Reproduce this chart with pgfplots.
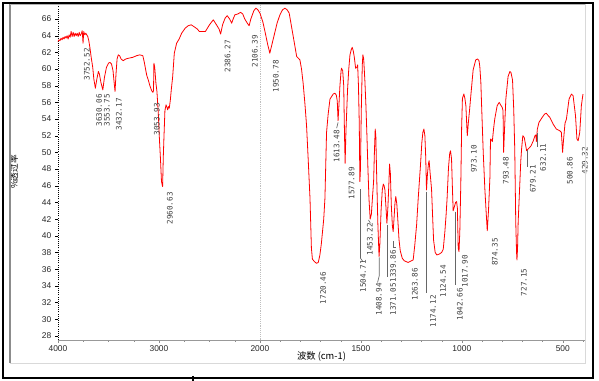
\documentclass[border=0pt]{standalone}
\usepackage{fontspec}
\setmainfont{Liberation Sans}
\newfontfamily\cjk{Noto Sans CJK SC}
\newfontfamily\mono{DejaVu Sans Mono}
\usepackage{pgfplots}
\usepackage{pgfplotstable}
\pgfplotsset{compat=1.18}
\pgfplotstableread{
wn t
4000 63.3
3990 63.5
3980 63.4
3970 63.7
3960 63.5
3950 63.8
3940 63.6
3930 63.9
3920 63.7
3910 64.0
3900 63.6
3890 64.1
3880 63.8
3870 64.5
3860 63.9
3850 64.4
3840 63.9
3830 64.3
3820 64.0
3810 64.3
3800 63.9
3790 64.4
3780 64.0
3770 64.2
3760 64.6
3752 63.1
3745 64.5
3735 64.1
3725 64.3
3715 64.1
3705 63.9
3695 63.4
3683 62.5
3670 61.3
3656 60.2
3645 58.8
3630 57.7
3615 58.8
3600 59.7
3590 59.4
3575 58.4
3556 57.5
3540 59.0
3520 60.2
3500 60.7
3485 60.8
3470 60.6
3455 59.8
3445 58.5
3435 57.3
3425 59.5
3415 61.2
3403 61.7
3390 61.6
3375 61.2
3355 61.0
3330 61.2
3300 61.3
3260 61.4
3221 61.6
3190 61.7
3160 61.6
3145 60.8
3130 59.8
3120 59.2
3106 58.7
3090 58.0
3072 57.4
3060 57.2
3054 57.4
3050 60.7
3042 60.2
3030 58.3
3020 57.3
3007 54.8
2995 51.5
2985 49.2
2975 46.5
2964 45.9
2957 49.5
2950 52.0
2941 55.0
2930 55.7
2920 55.4
2914 55.1
2905 55.5
2898 55.3
2888 56.2
2878 57.5
2864 59.1
2848 61.9
2825 63.1
2800 63.6
2775 64.3
2740 64.9
2710 65.2
2680 65.3
2655 65.1
2620 64.8
2600 64.5
2570 64.5
2540 64.5
2500 65.3
2462 65.9
2430 65.3
2405 64.8
2389 64.2
2370 65.3
2345 66.1
2324 66.4
2300 66.0
2280 65.5
2265 66.0
2248 66.5
2220 66.6
2191 66.8
2170 66.6
2150 66.0
2125 65.5
2107 65.2
2090 66.0
2060 67.0
2040 67.3
2020 67.1
2000 66.7
1985 65.6
1975 64.5
1962 63.0
1951 61.9
1940 63.0
1931 63.9
1915 65.5
1901 66.5
1888 67.1
1876 67.3
1865 67.1
1855 66.7
1845 65.3
1835 63.9
1825 62.5
1818 61.5
1810 61.3
1802 61.1
1794 60.0
1786 58.3
1777 55.8
1769 53.2
1761 49.2
1752 44.5
1745 38.5
1740 37.2
1730 36.9
1720 36.7
1711 36.8
1703 37.7
1696 39.0
1690 40.5
1684 42.0
1678 44.5
1674 48.5
1670 52.4
1662 54.6
1653 56.4
1645 56.7
1637 57.0
1629 57.1
1622 56.9
1617 56.2
1613 53.8
1609 55.5
1604 57.9
1598 59.8
1596 60.1
1590 59.8
1585 58.0
1581 52.0
1578 48.7
1574 52.5
1566 57.5
1560 60.0
1554 61.7
1548 62.3
1543 62.6
1538 62.2
1533 61.5
1526 60.1
1520 60.2
1516 60.5
1512 58.0
1508 53.5
1505 46.5
1502 48.0
1498 55.0
1493 60.5
1490 61.7
1486 61.2
1480 58.5
1475 55.6
1470 52.0
1465 48.0
1460 44.5
1454 42.0
1448 42.6
1442 44.8
1437 46.5
1433 50.0
1429 52.8
1426 52.0
1422 47.5
1416 41.5
1410 37.5
1406 39.0
1400 43.0
1394 45.5
1389 46.2
1385 46.0
1381 45.5
1376 43.5
1371 41.5
1366 43.5
1361 46.5
1358 48.6
1354 47.5
1349 43.5
1344 41.2
1340 40.5
1336 42.0
1331 44.0
1327 44.7
1322 43.8
1316 41.5
1311 39.5
1305 38.2
1295 37.3
1285 37.0
1266 36.8
1250 37.0
1241 37.1
1233 38.9
1224 41.3
1216 44.5
1205 48.4
1198 51.2
1193 52.4
1188 52.8
1183 52.0
1179 49.5
1175 45.5
1170 47.5
1165 48.7
1162 49.0
1157 47.5
1150 45.6
1145 42.5
1140 39.5
1132 38.0
1124 37.7
1112 37.8
1100 38.0
1092 38.4
1084 40.5
1078 42.5
1073 44.5
1066 48.2
1060 49.9
1056 50.2
1051 49.2
1047 46.0
1043 43.0
1038 43.4
1031 44.0
1026 44.1
1022 43.3
1018 38.5
1014 38.1
1010 40.5
1005 46.4
1001 53.0
997 56.5
990 57.0
985 56.5
980 55.6
976 53.5
973 52.0
968 53.5
962 55.0
957 56.4
944 59.9
931 61.1
922 61.2
915 61.0
911 60.3
906 58.5
902 55.6
894 50.0
886 45.6
880 43.0
874 40.6
868 43.0
861 47.0
858 51.6
853 51.5
849 51.3
843 52.8
837 54.0
825 55.6
815 56.0
808 55.7
800 55.4
796 55.0
793 50.0
789 52.5
782 56.4
771 59.1
762 59.7
757 59.6
749 58.7
743 55.2
738 50.4
733 41.7
729 38.0
727 37.1
724 38.5
721 41.7
714 45.6
708 49.0
704 50.4
698 52.0
691 51.8
685 51.0
679 50.2
672 50.4
664 50.6
657 50.8
646 51.4
638 52.0
633 52.1
631 51.3
626 52.8
618 53.6
602 54.2
590 54.6
582 54.7
572 54.4
564 54.2
548 53.4
532 52.8
515 52.6
507 52.4
501 50.0
496 51.6
489 53.5
482 54.0
469 56.4
457 57.0
449 56.8
443 55.6
437 54.4
430 51.6
424 51.4
416 52.4
408 55.6
400 57.0
}\spec
\begin{document}
\begin{tikzpicture}
\begin{axis}[
  at={(43.5pt,30.75pt)}, anchor=south west, scale only axis,
  width=395.25pt, height=252pt,
  xmin=0, xmax=5.22, ymin=27.5, ymax=67.8,
  axis lines=left, axis line style={-},
  x axis line style={black!40, line width=0.7pt},
  y axis line style={black, densely dotted, line width=0.6pt},
  xtick={0,1,2,3,4,5}, xticklabels={4000,3000,2000,1500,1000,500},
  minor xtick={0.25,0.5,0.75,1.25,1.5,1.75,2.2,2.4,2.6,2.8,3.2,3.4,3.6,3.8,4.2,4.4,4.6,4.8,5.2},
  ytick={28,30,...,66},
  tick align=outside, major tick length=2pt, minor tick length=1.2pt,
  xtick style={black!45}, ytick style={black},
  /pgf/number format/assume math mode=true,
  tick label style={font=\fontsize{6.3}{7}\selectfont, text=black!85},
  xticklabel style={yshift=1pt},
  yticklabel style={xshift=0.5pt},
  xlabel={\cjk 波数 (cm-1)},
  xlabel style={at={(axis description cs:0.5,-0.0497)}, anchor=center, font=\fontsize{7}{8}\selectfont},
  ylabel={\cjk \%透过率},
  ylabel style={at={(axis description cs:-0.0835,0.5)}, anchor=center, font=\fontsize{6.5}{7}\selectfont},
  clip=false,
]
\draw[densely dotted, black!25] (axis cs:2,27.5) -- (axis cs:2,67.8);
\addplot[red, line width=0.6pt, line join=round] table[x expr={(\thisrow{wn}>=2000)*(4000-\thisrow{wn})/1000+(\thisrow{wn}<2000)*(2+(2000-\thisrow{wn})/500)}, y=t] {\spec};
% leader lines
\draw[black!60, line width=0.5pt] (axis cs:2.997,45.6) -- (axis cs:2.997,37.3) -- (axis cs:3.02,36.9);
\draw[black!60, line width=0.5pt] (axis cs:3.182,37.4) -- (axis cs:3.182,35.2) -- (axis cs:3.165,34.4);
\draw[black!60, line width=0.5pt] (axis cs:3.260,41.3) -- (axis cs:3.260,35.0);
\draw[black!60, line width=0.5pt] (axis cs:3.320,39.4) -- (axis cs:3.320,38.6) -- (axis cs:3.35,38.6);
\draw[black!60, line width=0.5pt] (axis cs:3.650,45.3) -- (axis cs:3.650,33.1);
\draw[black!60, line width=0.5pt] (axis cs:3.931,42.9) -- (axis cs:3.931,34.1);
\draw[black!60, line width=0.5pt] (axis cs:4.65,50.3) -- (axis cs:4.65,48.2);
\draw[black!60, line width=0.5pt] (axis cs:4.745,52.3) -- (axis cs:4.745,50.7);
\draw[black!60, line width=0.5pt] (axis cs:3.075,41.9) -- (axis cs:3.095,41.5);
\draw[black!60, line width=0.5pt] (axis cs:2.774,53.6) -- (axis cs:2.76,52.9);
% peak labels
\begin{scope}[every node/.style={rotate=90, anchor=east, inner sep=0pt, font=\mono\fontsize{5.7}{6}\selectfont, text=black!75}]
\node at (axis cs:0.287,62.52) {3752.52};
\node at (axis cs:0.406,57.0) {3630.06};
\node at (axis cs:0.485,57.0) {3553.75};
\node at (axis cs:0.604,56.52) {3432.17};
\node at (axis cs:0.980,55.92) {3053.93};
\node at (axis cs:1.109,45.24) {2960.63};
\node at (axis cs:1.680,63.48) {2386.27};
\node at (axis cs:1.950,64.08) {2106.39};
\node at (axis cs:2.158,61.08) {1950.78};
\node at (axis cs:2.627,35.68) {1720.46};
\node at (axis cs:2.759,52.68) {1613.48};
\node at (axis cs:2.908,48.24) {1577.89};
\node at (axis cs:3.023,37.08) {1504.71};
\node at (axis cs:3.089,41.52) {1453.22};
\node at (axis cs:3.178,34.32) {1408.94};
\node at (axis cs:3.320,34.32) {1371.05};
\node at (axis cs:3.320,38.28) {1339.86};
\node at (axis cs:3.535,36.12) {1263.86};
\node at (axis cs:3.716,32.88) {1174.12};
\node at (axis cs:3.815,36.48) {1124.54};
\node at (axis cs:3.980,33.72) {1042.66};
\node at (axis cs:4.030,37.68) {1017.90};
\node at (axis cs:4.119,50.88) {973.10};
\node at (axis cs:4.327,39.72) {874.35};
\node at (axis cs:4.436,49.48) {793.48};
\node at (axis cs:4.614,36.09) {727.15};
\node at (axis cs:4.703,48.48) {679.21};
\node at (axis cs:4.805,51.08) {632.11};
\node at (axis cs:5.069,49.48) {500.86};
\node at (axis cs:5.218,50.68) {429.32};
\end{scope}
\end{axis}
\begin{scope}[x=0.75pt, y=-0.75pt, yshift=285.75pt]
\draw[black!45, line width=0.9pt] (10,4.5) -- (10,363);
\draw[black!15, line width=0.6pt] (10,363) -- (585,363) -- (585,4.5);
\draw[black!30, line width=0.6pt] (10,4.5) -- (585,4.5);
\draw[black, line width=1.1pt] (3,3) rectangle (593,378);
\draw[black, line width=1.5pt] (193,376) -- (193,381);
\end{scope}
\pgfresetboundingbox
\path[use as bounding box] (0,0) rectangle (449.25pt,285.75pt);
\end{tikzpicture}
\end{document}
